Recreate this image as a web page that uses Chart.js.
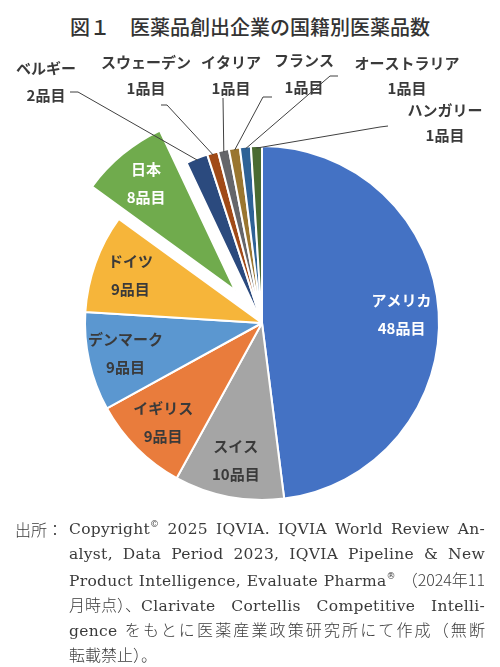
<!DOCTYPE html>
<html><head><meta charset="utf-8">
<script src="https://cdn.jsdelivr.net/npm/chart.js@4"></script>
<style>
html,body{margin:0;padding:0;background:#fff;width:500px;height:667px;overflow:hidden;}
#wrap{position:relative;width:500px;height:667px;}
#c{position:absolute;left:0;top:0;}
#title{position:absolute;left:0;top:12px;width:500px;text-align:center;font-family:"Noto Sans CJK JP",sans-serif;font-weight:500;font-size:20px;color:#333;line-height:30px;}
#src{position:absolute;left:0;top:517px;width:500px;font-family:"DejaVu Serif","Noto Sans CJK JP",serif;font-size:15.5px;letter-spacing:0.3px;color:#3a3a3a;}
#src .lab{position:absolute;left:15px;top:0;font-family:"Noto Sans CJK JP",sans-serif;font-weight:300;font-size:16px;line-height:25px;letter-spacing:0;}
#src .body{position:absolute;left:69px;top:0;width:416px;}
#src .ln{height:25px;line-height:25px;text-align:justify;text-align-last:justify;white-space:nowrap;}
#src .ln.last{text-align-last:left;}
#src .jp{display:inline-block;font-family:"Noto Sans CJK JP",sans-serif;font-weight:300;font-size:16px;letter-spacing:0;}
#src .jpf{font-family:"Noto Sans CJK JP",sans-serif;font-weight:300;font-size:16px;letter-spacing:0;}
#src sup{font-size:9px;vertical-align:7px;line-height:0;}
</style></head>
<body><div id="wrap">
<div id="title">図１　医薬品創出企業の国籍別医薬品数</div>
<canvas id="c" width="500" height="520"></canvas>
<div id="src">
 <div class="lab">出所：</div>
 <div class="body">
  <div class="ln">Copyright<sup>©</sup> 2025 IQVIA. IQVIA World Review An-</div>
  <div class="ln">alyst, Data Period 2023, IQVIA Pipeline &amp; New</div>
  <div class="ln">Product Intelligence, Evaluate Pharma<sup>®</sup> <span class="jp">（2024年11</span></div>
  <div class="ln"><span class="jp">月時点）、</span>Clarivate Cortellis Competitive Intelli-</div>
  <div class="ln">gence <span class="jpf">をもとに医薬産業政策研究所にて作成（無断</span></div>
  <div class="ln last"><span class="jp">転載禁止）。</span></div>
 </div>
</div>
</div>
<script>
// ---- data ----
const countries = ['アメリカ','スイス','イギリス','デンマーク','ドイツ','日本','ベルギー','スウェーデン','イタリア','フランス','オーストラリア','ハンガリー'];
const counts = [48, 10, 9, 9, 9, 8, 2, 1, 1, 1, 1, 1];
const unitLabel = '品目';

// ---- styles ----
const sliceColors = ['#4472C4','#A5A5A5','#E97C3C','#5B97D0','#F6B53A','#70AB4D','#2B4A7E','#A14A17','#65666A','#9A7630','#2E6296','#4A6B32'];
const insideTextColors = ['#ffffff','#3a3a3a','#3a3a3a','#3a3a3a','#3a3a3a','#ffffff'];
const explodeIndex = 5;     // 日本
const explodeDist = 42;
const outerLayout = {
  6:  {tx:46,  ty:68, vy:95, p0:[70,92],  p1:[78,92]},
  7:  {tx:146, ty:62, vy:88, p0:[161,105],p1:[167,105]},
  8:  {tx:231, ty:62, vy:88, p0:[223,98], p1:[223,98]},
  9:  {tx:304, ty:60, vy:87, p0:[272,97], p1:[263,97]},
  10: {tx:407, ty:63, vy:88, p0:[338,76], p1:[330,76]},
  11: {tx:445, ty:110,vy:135,p0:[388,126],p1:[380,127]}
};
const labelFont = 'bold 15px "Noto Sans CJK JP", sans-serif';

const explodePlugin = {
  id:'explode',
  afterUpdate(chart){
    const arc = chart.getDatasetMeta(0).data[explodeIndex];
    if(!arc) return;
    const mid = (arc.startAngle + arc.endAngle)/2;
    arc.x += Math.cos(mid)*explodeDist;
    arc.y += Math.sin(mid)*explodeDist;
  }
};

const labelPlugin = {
  id:'sliceLabels',
  afterDatasetsDraw(chart){
    const ctx = chart.ctx;
    const arcs = chart.getDatasetMeta(0).data;
    ctx.save();
    ctx.font = labelFont;
    ctx.textAlign = 'center';
    ctx.textBaseline = 'middle';
    arcs.forEach((arc, i) => {
      const mid = (arc.startAngle + arc.endAngle)/2;
      const name = countries[i];
      const val = counts[i] + unitLabel;
      if (outerLayout[i]) {
        const L = outerLayout[i];
        const ex = arc.x + Math.cos(mid)*(arc.outerRadius-2);
        const ey = arc.y + Math.sin(mid)*(arc.outerRadius-2);
        ctx.strokeStyle = '#404040';
        ctx.lineWidth = 1;
        ctx.beginPath();
        ctx.moveTo(L.p0[0], L.p0[1]);
        ctx.lineTo(L.p1[0], L.p1[1]);
        ctx.lineTo(ex, ey);
        ctx.stroke();
        ctx.fillStyle = '#3a3a3a';
        ctx.fillText(name, L.tx, L.ty);
        ctx.fillText(val, L.tx, L.vy);
      } else {
        const r = arc.outerRadius*0.79;
        const cx = arc.x + Math.cos(mid)*r;
        const cy = arc.y + Math.sin(mid)*r;
        ctx.fillStyle = insideTextColors[i];
        ctx.fillText(name, cx, cy-14);
        ctx.fillText(val, cx, cy+14);
      }
    });
    ctx.restore();
  }
};

new Chart(document.getElementById('c'), {
  type:'pie',
  data:{
    labels: countries,
    datasets:[{
      data: counts,
      backgroundColor: sliceColors,
      borderColor:'#ffffff',
      borderWidth:2
    }]
  },
  options:{
    responsive:false,
    animation:false,
    radius:177,
    layout:{padding:{left:24,top:126,right:0,bottom:0}},
    plugins:{legend:{display:false},tooltip:{enabled:false}},
    events:[]
  },
  plugins:[explodePlugin, labelPlugin]
});
</script>
</body></html>
